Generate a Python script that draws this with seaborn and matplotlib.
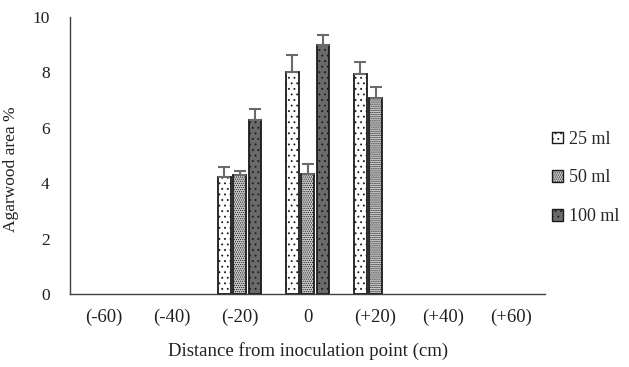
import numpy as np
import pandas as pd
import matplotlib
matplotlib.use("Agg")
import matplotlib.pyplot as plt
import seaborn as sns
from matplotlib.patches import Patch

categories = ["(-60)", "(-40)", "(-20)", "0", "(+20)", "(+40)", "(+60)"]
series = ["25 ml", "50 ml", "100 ml"]
vals_25 = [np.nan, np.nan, 4.22, 8.02, 7.95, np.nan, np.nan]
vals_50 = [np.nan, np.nan, 4.30, 4.33, 7.08, np.nan, np.nan]
vals_100 = [np.nan, np.nan, 6.27, 8.98, np.nan, np.nan, np.nan]
err_25 = [np.nan, np.nan, 0.37, 0.62, 0.42, np.nan, np.nan]
err_50 = [np.nan, np.nan, 0.14, 0.35, 0.38, np.nan, np.nan]
err_100 = [np.nan, np.nan, 0.42, 0.38, np.nan, np.nan, np.nan]

sns.set_style("white")
plt.rcParams['font.family'] = ['Liberation Serif', 'DejaVu Serif']
plt.rcParams['hatch.linewidth'] = 0.6

rows = []
for s, v in zip(series, [vals_25, vals_50, vals_100]):
    for c, x in zip(categories, v):
        rows.append({"cat": c, "series": s, "val": x})
df = pd.DataFrame(rows)

fig = plt.figure(figsize=(6.29, 3.67), dpi=100)
ax = fig.add_axes([0.111, 0.199, 0.756, 0.755])

faces = {"25 ml": "white", "50 ml": "#cdcdcd", "100 ml": "#6a6a6a"}
hatches = {"25 ml": "...", "50 ml": "........", "100 ml": "..."}
hcolors = {"25 ml": "#9a9a9a", "50 ml": "#909090", "100 ml": "#e0e0e0"}

sns.barplot(data=df, x="cat", y="val", hue="series", order=categories,
            hue_order=series, palette=faces, width=0.675, gap=0.17,
            errorbar=None, ax=ax, legend=False, edgecolor="#1a1a1a", linewidth=1.3)

errs = {"25 ml": err_25, "50 ml": err_50, "100 ml": err_100}
vals = {"25 ml": vals_25, "50 ml": vals_50, "100 ml": vals_100}
for s, cont in zip(series, ax.containers):
    for p in cont.patches:
        p.set_hatch(hatches[s])
        try:
            p.set_hatchcolor(hcolors[s])
        except Exception:
            pass
        xc = p.get_x() + p.get_width() / 2
        i = int(round(xc))
        v = vals[s][i]
        e = errs[s][i]
        if not np.isnan(v):
            ax.errorbar(xc, v, yerr=[[0], [e]], fmt="none", ecolor="#6a6a6a",
                        elinewidth=1.5, capsize=4.5, capthick=1.5, zorder=1)

ax.set_ylim(0, 10)
ax.set_yticks([0, 2, 4, 6, 8, 10])
ax.set_xlim(-0.5, 6.5)
for sp in ["top", "right"]:
    ax.spines[sp].set_visible(False)
for sp in ["left", "bottom"]:
    ax.spines[sp].set_color("#404040")
    ax.spines[sp].set_linewidth(1.0)
ax.tick_params(axis="both", length=0, colors="#202020")
ax.tick_params(axis="x", pad=20, labelsize=13.5)
ax.tick_params(axis="y", pad=14.5, labelsize=12.5)
for lab in ax.get_xticklabels():
    lab.set_verticalalignment("baseline")
ax.set_ylabel("Agarwood area %", fontsize=12.5, color="#202020")
ax.yaxis.set_label_coords(-0.107, 0.45)
ax.set_xlabel("Distance from inoculation point (cm)", fontsize=13.5, color="#202020", labelpad=12)

handles = []
for s in series:
    h = Patch(facecolor=faces[s], edgecolor="#1a1a1a", hatch=hatches[s], label=s)
    try:
        h.set_hatchcolor(hcolors[s])
    except Exception:
        pass
    handles.append(h)
leg = fig.legend(handles=handles, loc="center left", bbox_to_anchor=(0.852, 0.515),
                 frameon=False, fontsize=13, labelspacing=1.2, handlelength=0.6,
                 handleheight=0.6, handletextpad=0.35)

fig.savefig("out.png", dpi=100)
